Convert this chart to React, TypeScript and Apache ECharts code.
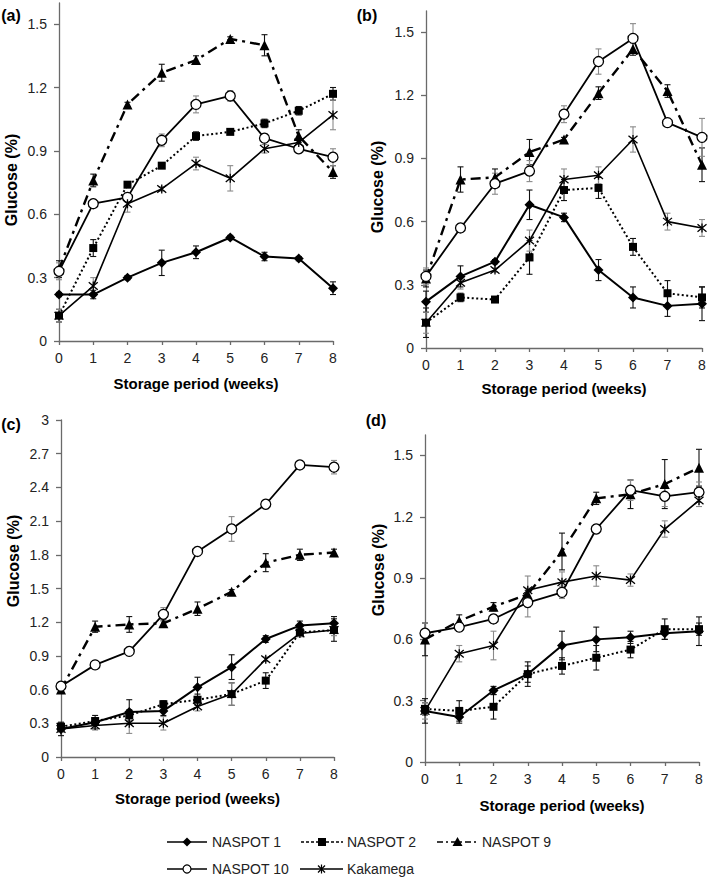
import React, { useEffect, useRef } from 'react';
import * as echarts from 'echarts';

// ---------- data ----------
const weeks = [0, 1, 2, 3, 4, 5, 6, 7, 8];
const seriesNames = ['NASPOT 1', 'NASPOT 2', 'NASPOT 9', 'NASPOT 10', 'Kakamega'];
const panelLabels = ['(a)', '(b)', '(c)', '(d)'];
const xTitle = 'Storage period (weeks)';
const yTitle = 'Glucose (%)';
const yTicksLow = [0, 0.3, 0.6, 0.9, 1.2, 1.5];
const yTicksHigh = [0, 0.3, 0.6, 0.9, 1.2, 1.5, 1.8, 2.1, 2.4, 2.7, 3];

// panel (a)
const a_n1 = [0.22, 0.22, 0.30, 0.37, 0.42, 0.49, 0.40, 0.39, 0.25];
const a_n1_err = [0.01, 0.02, 0.01, 0.06, 0.03, 0.01, 0.02, 0.01, 0.03];
const a_n2 = [0.12, 0.44, 0.74, 0.83, 0.97, 0.99, 1.03, 1.09, 1.17];
const a_n2_err = [0.03, 0.04, 0.01, 0.01, 0.02, 0.01, 0.02, 0.02, 0.03];
const a_n9 = [0.34, 0.76, 1.12, 1.27, 1.33, 1.43, 1.40, 0.97, 0.80];
const a_n9_err = [0.04, 0.03, 0.01, 0.04, 0.02, 0.01, 0.05, 0.03, 0.03];
const a_n10 = [0.33, 0.65, 0.68, 0.95, 1.12, 1.16, 0.96, 0.91, 0.87];
const a_n10_err = [0.04, 0.01, 0.02, 0.03, 0.04, 0.025, 0.02, 0.01, 0.04];
const a_kak = [0.12, 0.26, 0.65, 0.72, 0.84, 0.77, 0.91, 0.94, 1.07];
const a_kak_err = [0.03, 0.04, 0.04, 0.01, 0.03, 0.06, 0.02, 0.02, 0.07];

// panel (b)
const b_n1 = [0.22, 0.34, 0.41, 0.68, 0.62, 0.37, 0.24, 0.20, 0.21];
const b_n1_err = [0.05, 0.05, 0.01, 0.07, 0.02, 0.05, 0.05, 0.05, 0.08];
const b_n2 = [0.12, 0.24, 0.23, 0.43, 0.75, 0.76, 0.48, 0.26, 0.24];
const b_n2_err = [0.07, 0.02, 0.01, 0.08, 0.05, 0.05, 0.04, 0.06, 0.05];
const b_n9 = [0.33, 0.80, 0.81, 0.93, 0.99, 1.21, 1.42, 1.22, 0.87];
const b_n9_err = [0.04, 0.06, 0.04, 0.06, 0.01, 0.03, 0.03, 0.03, 0.08];
const b_n10 = [0.34, 0.57, 0.78, 0.84, 1.11, 1.36, 1.47, 1.07, 1.00];
const b_n10_err = [0.04, 0.01, 0.05, 0.05, 0.04, 0.06, 0.07, 0.01, 0.09];
const b_kak = [0.12, 0.31, 0.37, 0.51, 0.80, 0.82, 0.99, 0.60, 0.57];
const b_kak_err = [0.05, 0.03, 0.01, 0.05, 0.05, 0.04, 0.06, 0.04, 0.04];

// panel (c)
const c_n1 = [0.25, 0.31, 0.40, 0.41, 0.62, 0.80, 1.05, 1.17, 1.19];
const c_n1_err = [0.06, 0.06, 0.11, 0.04, 0.09, 0.11, 0.03, 0.04, 0.06];
const c_n2 = [0.27, 0.32, 0.37, 0.47, 0.51, 0.56, 0.68, 1.11, 1.13];
const c_n2_err = [0.03, 0.03, 0.05, 0.03, 0.05, 0.10, 0.07, 0.03, 0.10];
const c_n9 = [0.60, 1.16, 1.18, 1.19, 1.32, 1.47, 1.73, 1.80, 1.82];
const c_n9_err = [0.03, 0.05, 0.07, 0.03, 0.06, 0.02, 0.08, 0.05, 0.03];
const c_n10 = [0.63, 0.82, 0.94, 1.27, 1.83, 2.03, 2.25, 2.60, 2.58];
const c_n10_err = [0.02, 0.02, 0.02, 0.06, 0.02, 0.11, 0.02, 0.03, 0.06];
const c_kak = [0.25, 0.28, 0.30, 0.30, 0.45, 0.56, 0.87, 1.10, 1.13];
const c_kak_err = [0.03, 0.04, 0.09, 0.06, 0.04, 0.10, 0.02, 0.03, 0.05];

// panel (d)
const d_n1 = [0.25, 0.22, 0.35, 0.43, 0.57, 0.60, 0.61, 0.63, 0.64];
const d_n1_err = [0.06, 0.03, 0.02, 0.06, 0.07, 0.06, 0.03, 0.03, 0.07];
const d_n2 = [0.26, 0.25, 0.27, 0.43, 0.47, 0.51, 0.55, 0.65, 0.65];
const d_n2_err = [0.03, 0.05, 0.06, 0.04, 0.04, 0.06, 0.04, 0.05, 0.03];
const d_n9 = [0.60, 0.69, 0.76, 0.82, 1.03, 1.29, 1.31, 1.36, 1.44];
const d_n9_err = [0.08, 0.03, 0.02, 0.02, 0.09, 0.03, 0.07, 0.12, 0.09];
const d_n10 = [0.63, 0.66, 0.70, 0.78, 0.83, 1.14, 1.33, 1.30, 1.32];
const d_n10_err = [0.05, 0.02, 0.02, 0.07, 0.03, 0.02, 0.05, 0.05, 0.05];
const d_kak = [0.25, 0.53, 0.57, 0.84, 0.88, 0.91, 0.89, 1.14, 1.28];
const d_kak_err = [0.04, 0.04, 0.07, 0.07, 0.05, 0.05, 0.03, 0.04, 0.03];

const panelValues = [
  [a_n1, a_n2, a_n9, a_n10, a_kak],
  [b_n1, b_n2, b_n9, b_n10, b_kak],
  [c_n1, c_n2, c_n9, c_n10, c_kak],
  [d_n1, d_n2, d_n9, d_n10, d_kak],
];
const panelErrors = [
  [a_n1_err, a_n2_err, a_n9_err, a_n10_err, a_kak_err],
  [b_n1_err, b_n2_err, b_n9_err, b_n10_err, b_kak_err],
  [c_n1_err, c_n2_err, c_n9_err, c_n10_err, c_kak_err],
  [d_n1_err, d_n2_err, d_n9_err, d_n10_err, d_kak_err],
];
const panelYMax = [1.6, 1.6, 3, 1.6];

// ---------- layout & style ----------
const FONT = '"Liberation Sans", Arial, Helvetica, sans-serif';
const grids = [
  { left: 59, top: 3, width: 274, height: 338 },
  { left: 426, top: 11, width: 276, height: 337 },
  { left: 61, top: 420, width: 273, height: 337 },
  { left: 425, top: 435, width: 274, height: 327 },
];
const xNameGap = [42, 40, 41, 43];
const yTitlePos = [[11, 180], [377, 187], [13, 561], [378, 570]];
const labelPos = [[11, 15], [367, 15], [11, 424], [376, 420]];

const ASTER = 'path://M0,0L10,10M10,0L0,10M5,-1L5,11';

const styles = [
  { symbol: 'diamond', size: 10, line: { width: 2, type: 'solid' }, fill: '#000', errColor: '#111' },
  { symbol: 'rect', size: 8, line: { width: 2, type: [2, 2.5] }, fill: '#000', errColor: '#111' },
  { symbol: 'triangle', size: 10, line: { width: 2.4, type: [10, 5, 3, 5] }, fill: '#000', errColor: '#111' },
  { symbol: 'circle', size: 10, line: { width: 1.8, type: 'solid' }, fill: '#fff', errColor: '#8a8a8a' },
  { symbol: ASTER, size: 9, line: { width: 1.6, type: 'solid' }, fill: 'none', errColor: '#8a8a8a' },
];

function buildOption() {
  const gridOpts: any[] = [];
  const xAxes: any[] = [];
  const yAxes: any[] = [];
  const series: any[] = [];
  const graphics: any[] = [];

  grids.forEach((g, p) => {
    gridOpts.push({ ...g, containLabel: false });
    xAxes.push({
      type: 'value', gridIndex: p, min: 0, max: 8, interval: 1,
      name: xTitle, nameLocation: 'middle', nameGap: xNameGap[p],
      nameTextStyle: { fontFamily: FONT, fontSize: 15, fontWeight: 'bold', color: '#000', verticalAlign: 'middle' },
      axisLine: { show: true, onZero: false, lineStyle: { color: '#6a6a6a', width: 1.3 } },
      axisTick: { show: true, length: 4, lineStyle: { color: '#6a6a6a', width: 1.3 } },
      axisLabel: { fontFamily: FONT, fontSize: 14, color: '#222', margin: 10 },
      splitLine: { show: false },
    });
    const ticks = panelYMax[p] === 3 ? yTicksHigh : yTicksLow;
    yAxes.push({
      type: 'value', gridIndex: p, min: 0, max: panelYMax[p], interval: 0.3,
      axisLine: { show: true, onZero: false, lineStyle: { color: '#6a6a6a', width: 1.3 } },
      axisTick: { show: true, length: 5, customValues: ticks, lineStyle: { color: '#6a6a6a', width: 1.3 } },
      axisLabel: { fontFamily: FONT, fontSize: 14, color: '#222', margin: 12, customValues: ticks },
      splitLine: { show: false },
    });

    seriesNames.forEach((name, s) => {
      const st = styles[s];
      const vals = panelValues[p][s];
      const errs = panelErrors[p][s];
      series.push({
        type: 'custom', name: name + ' error', xAxisIndex: p, yAxisIndex: p, z: 1,
        clip: false, silent: true,
        data: weeks.map((w, i) => [w, vals[i], errs[i]]),
        encode: { x: 0, y: 1 },
        renderItem: (params: any, api: any) => {
          const x = api.value(0), y = api.value(1), e = api.value(2);
          const top = api.coord([x, y + e]);
          const bot = api.coord([x, y - e]);
          const hw = 3;
          const style = { stroke: st.errColor, lineWidth: 1.1, fill: 'none' };
          return {
            type: 'group',
            children: [
              { type: 'line', shape: { x1: top[0], y1: top[1], x2: bot[0], y2: bot[1] }, style },
              { type: 'line', shape: { x1: top[0] - hw, y1: top[1], x2: top[0] + hw, y2: top[1] }, style },
              { type: 'line', shape: { x1: bot[0] - hw, y1: bot[1], x2: bot[0] + hw, y2: bot[1] }, style },
            ],
          };
        },
      });
      series.push({
        type: 'line', name, xAxisIndex: p, yAxisIndex: p, z: 3,
        data: weeks.map((w, i) => [w, vals[i]]),
        symbol: st.symbol, symbolSize: st.size, showSymbol: true,
        lineStyle: { color: '#000', width: st.line.width, type: st.line.type },
        itemStyle: {
          color: st.fill, borderColor: '#000',
          borderWidth: s >= 3 ? 1.3 : 0,
        },
        clip: false,
      });
    });

    graphics.push({
      type: 'text', x: yTitlePos[p][0], y: yTitlePos[p][1], rotation: Math.PI / 2,
      style: { text: yTitle, font: `bold 16px ${FONT}`, fill: '#000', align: 'center', verticalAlign: 'middle' },
    });
    graphics.push({
      type: 'text', x: labelPos[p][0], y: labelPos[p][1],
      style: { text: panelLabels[p], font: `bold 16px ${FONT}`, fill: '#000', align: 'center', verticalAlign: 'middle' },
    });
  });

  // legend (drawn as graphics)
  const legendItems = [
    { s: 0, x1: 167, x2: 207, ty: 842, tx: 212 },
    { s: 1, x1: 301, x2: 343, ty: 842, tx: 347 },
    { s: 2, x1: 437, x2: 478, ty: 842, tx: 482 },
    { s: 3, x1: 167, x2: 207, ty: 869, tx: 212 },
    { s: 4, x1: 300, x2: 343, ty: 869, tx: 347 },
  ];
  legendItems.forEach((it) => {
    const st = styles[it.s];
    const cx = (it.x1 + it.x2) / 2;
    const cy = it.ty;
    const dash = Array.isArray(st.line.type) ? (it.s === 1 ? [3, 2] : [6, 3, 2, 3]) : null;
    graphics.push({
      type: 'line', shape: { x1: it.x1, y1: cy, x2: it.x2, y2: cy },
      style: { stroke: '#000', lineWidth: 1.4, lineDash: dash },
    });
    if (it.s === 0) {
      graphics.push({ type: 'polygon', shape: { points: [[cx, cy - 4.5], [cx + 4.5, cy], [cx, cy + 4.5], [cx - 4.5, cy]] }, style: { fill: '#000' } });
    } else if (it.s === 1) {
      graphics.push({ type: 'rect', shape: { x: cx - 4, y: cy - 4, width: 8, height: 8 }, style: { fill: '#000' } });
    } else if (it.s === 2) {
      graphics.push({ type: 'polygon', shape: { points: [[cx, cy - 5], [cx + 5, cy + 4], [cx - 5, cy + 4]] }, style: { fill: '#000' } });
    } else if (it.s === 3) {
      graphics.push({ type: 'circle', shape: { cx, cy, r: 4 }, style: { fill: '#fff', stroke: '#000', lineWidth: 1.2 } });
    } else {
      const r = 3.5;
      [[cx - r, cy - r, cx + r, cy + r], [cx + r, cy - r, cx - r, cy + r], [cx, cy - 4.5, cx, cy + 4.5]].forEach((l) => {
        graphics.push({ type: 'line', shape: { x1: l[0], y1: l[1], x2: l[2], y2: l[3] }, style: { stroke: '#000', lineWidth: 1.2 } });
      });
    }
    graphics.push({
      type: 'text', x: it.tx, y: cy,
      style: { text: seriesNames[it.s], font: `14px ${FONT}`, fill: '#222', align: 'left', verticalAlign: 'middle' },
    });
  });

  return {
    animation: false,
    backgroundColor: '#fff',
    grid: gridOpts,
    xAxis: xAxes,
    yAxis: yAxes,
    series,
    graphic: graphics,
  };
}

export default function App() {
  const ref = useRef<HTMLDivElement>(null);
  useEffect(() => {
    if (!ref.current) return;
    const chart = echarts.init(ref.current, undefined, { renderer: 'svg' });
    chart.setOption(buildOption() as any);
    return () => chart.dispose();
  }, []);
  return (
    <div
      ref={ref}
      style={{ position: 'fixed', left: 0, top: 0, width: 709, height: 880, background: '#fff' }}
    />
  );
}
